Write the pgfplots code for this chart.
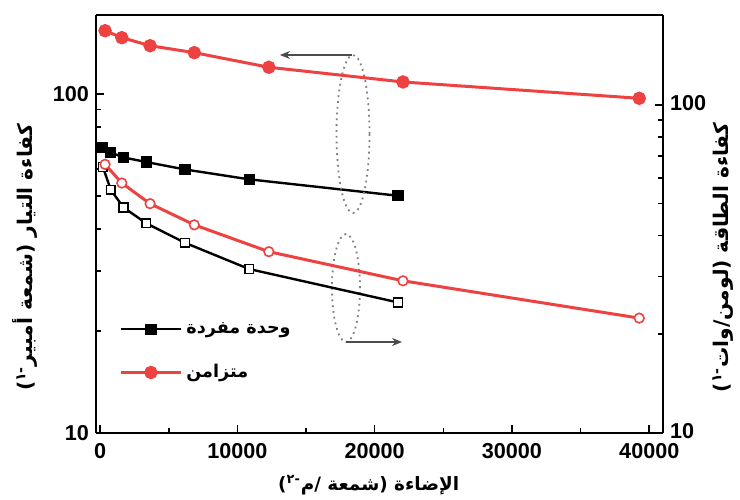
\documentclass[border=0pt]{standalone}
\usepackage{pgfplots}
\pgfplotsset{compat=1.18}
\usepackage{fontspec}
\setmainfont{Liberation Sans}
\newfontfamily\arabicfont[Script=Arabic]{DejaVu Sans}
\TeXXeTstate=1
\usetikzlibrary{arrows.meta}
\definecolor{myred}{RGB}{238,66,66}
\pgfplotsset{
  twinbase/.style={
    scale only axis, width=283.5pt, height=209pt,
    xmin=-300, xmax=41000, ymin=10,
    tick label style={font=\fontsize{10.8}{12}\selectfont\bfseries},
    /pgf/number format/assume math mode=true,
    /pgf/number format/1000 sep={},
    scaled x ticks=false,
    tick align=inside,
    xtick={0,10000,20000,30000,40000},
    minor x tick num=1,
    ytick={10,100}, yticklabels={10,100},
    minor ytick={20,30,40,50,60,70,80,90},
    major tick length=4pt, minor tick length=2.5pt,
    axis line style={line width=1pt},
    every tick/.style={black, line width=0.8pt},
  }
}
\begin{document}
\begin{tikzpicture}
\begin{semilogyaxis}[twinbase, name=ax, ymax=171,
  axis y line*=left, xtick pos=bottom,
  xticklabel style={yshift=-1.5pt},
  xlabel={\arabicfont\fontsize{9.2}{11}\selectfont\bfseries\beginR الإضاءة (شمعة /م\textsuperscript{-٢})\endR},
  xlabel style={at={(axis description cs:0.481,0)}, anchor=center, yshift=-26pt},
  ylabel={\arabicfont\fontsize{10.1}{12}\selectfont\bfseries\beginR كفاءة التيار (شمعة أمبير\textsuperscript{-١})\endR},
  ylabel style={at={(axis description cs:0,0.42)}, anchor=center, yshift=35.5pt},
  legend style={draw=none, fill=none, at={(rel axis cs:0.03,0.285)}, anchor=north west,
    font=\arabicfont\fontsize{8.8}{10}\selectfont\bfseries, row sep=10pt},
  legend cell align=left,
  legend image code/.code={\draw[mark repeat=2,mark phase=2,#1] plot coordinates {(0pt,0pt) (15pt,0pt) (30pt,0pt)};},
]
\addplot[black, line width=1.2pt, mark=square*, mark size=2.2pt] coordinates {
(200,69.5) (780,67.2) (1700,65.0) (3350,63.0) (6180,59.9) (10860,56.0) (21700,50.1)};
\addlegendentry{\beginR وحدة مفردة\endR}
\addplot[myred, line width=1.5pt, mark=*, mark size=2.6pt] coordinates {
(360,153.7) (1580,146.6) (3640,138.8) (6860,132.4) (12290,119.9) (22060,108.5) (39270,97.1)};
\addlegendentry{\beginR متزامن\endR}
\draw[gray, dotted, line width=0.9pt] (rel axis cs:0.4533,0.7153) ellipse [x radius=8.25pt, y radius=39.5pt];
\draw[gray, dotted, line width=0.9pt] (rel axis cs:0.4409,0.3469) ellipse [x radius=7pt, y radius=27pt];
\draw[black!70, line width=0.7pt, -{Stealth[length=5pt,width=4pt]}] (rel axis cs:0.4515,0.9043) -- (rel axis cs:0.3245,0.9043);
\draw[black!70, line width=0.7pt, -{Stealth[length=5pt,width=4pt]}] (rel axis cs:0.4409,0.2177) -- (rel axis cs:0.5397,0.2177);
\end{semilogyaxis}
\begin{semilogyaxis}[twinbase, ymax=188,
  axis y line*=right, axis x line=none,
  yticklabel style={yshift=1pt},
  ylabel={\arabicfont\fontsize{10.1}{12}\selectfont\bfseries\beginR كفاءة الطاقة (لومن/وات\textsuperscript{-١})\endR},
  ylabel style={at={(axis description cs:1,0.42)}, anchor=center, yshift=-30pt},
]
\addplot[black, line width=1.2pt, mark=square*, mark size=2.2pt, mark options={fill=white, line width=0.8pt}] coordinates {
(200,64.7) (780,55.1) (1700,48.7) (3350,43.6) (6180,38.0) (10860,31.6) (21700,25.0)};
\addplot[myred, line width=1.5pt, mark=*, mark size=2.4pt, mark options={fill=white, line width=0.8pt}] coordinates {
(360,65.9) (1580,57.8) (3640,50.0) (6860,43.1) (12290,35.7) (22060,29.1) (39270,22.4)};
\end{semilogyaxis}
\pgfresetboundingbox
\path ([shift={(-48pt,-33pt)}]ax.south west) rectangle ([shift={(38.5pt,7.5pt)}]ax.north east);
\end{tikzpicture}
\end{document}
